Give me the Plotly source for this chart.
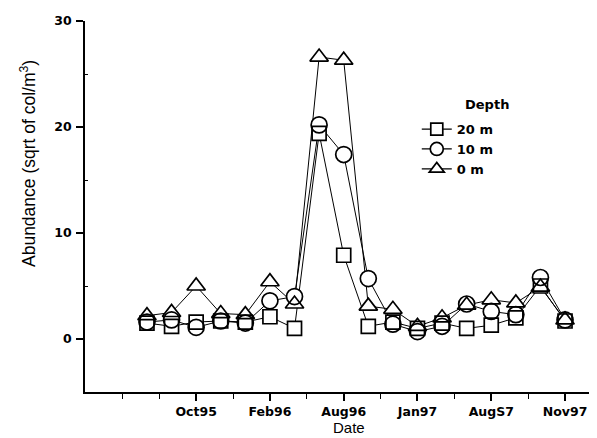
import plotly.graph_objects as go

# Sample sequence (index along the time axis)
sample = list(range(18))

# Abundance values (sqrt of col/m^3) per depth
depth_20m = [1.5, 1.2, 1.6, 1.7, 1.6, 2.1, 1.0, 19.4, 7.9, 1.2, 1.6, 1.0, 1.5, 1.0, 1.3, 2.0, 5.0, 1.7]
depth_10m = [1.6, 1.8, 1.1, 1.7, 1.5, 3.6, 4.0, 20.2, 17.4, 5.7, 1.4, 0.7, 1.2, 3.3, 2.6, 2.3, 5.8, 1.8]
depth_0m = [2.2, 2.5, 5.0, 2.4, 2.3, 5.4, 3.3, 26.6, 26.3, 3.1, 2.8, 1.2, 2.0, 3.2, 3.7, 3.4, 4.9, 1.8]

# Axis tick labels
x_tickvals = [2, 5, 8, 11, 14, 17]
x_ticktext = ["Oct95", "Feb96", "Aug96", "Jan97", "AugS7", "Nov97"]
x_minor = [-1, 0.5, 3.5, 6.5, 9.5, 12.5, 15.5]
y_tickvals = [0, 10, 20, 30]
y_minor = [5, 15, 25]

# name, values, symbol, plot size, legend size
series = [
    ("20 m", depth_20m, "square", 14, 12),
    ("10 m", depth_10m, "circle", 16, 13),
    ("0 m", depth_0m, "triangle-up", 16, 13),
]

fig = go.Figure()

# connecting lines
for name, vals, sym, size, lsize in series:
    fig.add_trace(go.Scatter(x=sample, y=vals, mode="lines",
                             line=dict(color="black", width=1),
                             showlegend=False, hoverinfo="skip"))
# white fill to hide lines inside markers
for name, vals, sym, size, lsize in series:
    fig.add_trace(go.Scatter(x=sample, y=vals, mode="markers",
                             marker=dict(symbol=sym, size=size, color="white",
                                         line=dict(color="white", width=0)),
                             showlegend=False, hoverinfo="skip"))
# outlines on top
for name, vals, sym, size, lsize in series:
    fig.add_trace(go.Scatter(x=sample, y=vals, mode="markers",
                             marker=dict(symbol=sym + "-open", size=size, color="black",
                                         line=dict(color="black", width=1.7)),
                             showlegend=False))
# legend entries
for name, vals, sym, size, lsize in series:
    fig.add_trace(go.Scatter(x=[None], y=[None], mode="lines+markers", name=name,
                             line=dict(color="black", width=1.3),
                             marker=dict(symbol=sym, size=lsize, color="white",
                                         line=dict(color="black", width=1.7))))

tickfont = dict(family="DejaVu Sans", size=12.5, color="black", weight="bold")

# plot area: 512 x 371 px; page body adds 8px offset
fig.update_layout(
    width=589, height=430,
    margin=dict(l=77, r=0, t=13, b=46),
    paper_bgcolor="white", plot_bgcolor="white",
    showlegend=True,
    legend=dict(x=0.648, y=0.749, xanchor="left", yanchor="top",
                font=dict(family="DejaVu Sans", size=13, color="black", weight="bold"),
                bgcolor="rgba(0,0,0,0)", itemwidth=30, tracegroupgap=0),
    xaxis=dict(range=[-2.52, 18.3], showgrid=False, zeroline=False,
               showline=True, linecolor="black", linewidth=1.5,
               tickmode="array", tickvals=x_tickvals, ticktext=x_ticktext,
               ticks="outside", ticklen=7, tickwidth=1.5, tickcolor="black",
               tickfont=tickfont,
               minor=dict(tickmode="array", tickvals=x_minor, ticks="outside",
                          ticklen=5, tickwidth=1.2, tickcolor="black", showgrid=False)),
    yaxis=dict(range=[-5, 30], showgrid=False, zeroline=False,
               showline=True, linecolor="black", linewidth=1.5,
               tickmode="array", tickvals=y_tickvals,
               ticks="outside", ticklen=7, tickwidth=1.5, tickcolor="black",
               tickfont=tickfont, ticklabelstandoff=2,
               minor=dict(tickmode="array", tickvals=y_minor, ticks="inside",
                          ticklen=3, tickwidth=1.2, tickcolor="black", showgrid=False)),
    annotations=[
        dict(text="Abundance (sqrt of col/m<sup>3</sup>)", xref="paper", yref="paper",
             x=-(85 - 28) / 512, y=1 - (164 - 21) / 371, xanchor="center", yanchor="middle",
             textangle=-90, showarrow=False,
             font=dict(family="Liberation Sans", size=17.5, color="black")),
        dict(text="Date", xref="paper", yref="paper",
             x=(349 - 85) / 512, y=-(427 - 392) / 371, xanchor="center", yanchor="middle",
             showarrow=False,
             font=dict(family="Liberation Sans", size=15, color="black")),
        dict(text="Depth", xref="paper", yref="paper",
             x=(487 - 85) / 512, y=1 - (105 - 21) / 371, xanchor="center", yanchor="middle",
             showarrow=False,
             font=dict(family="DejaVu Sans", size=13, color="black", weight="bold")),
    ],
)

fig.write_html("out.html")
